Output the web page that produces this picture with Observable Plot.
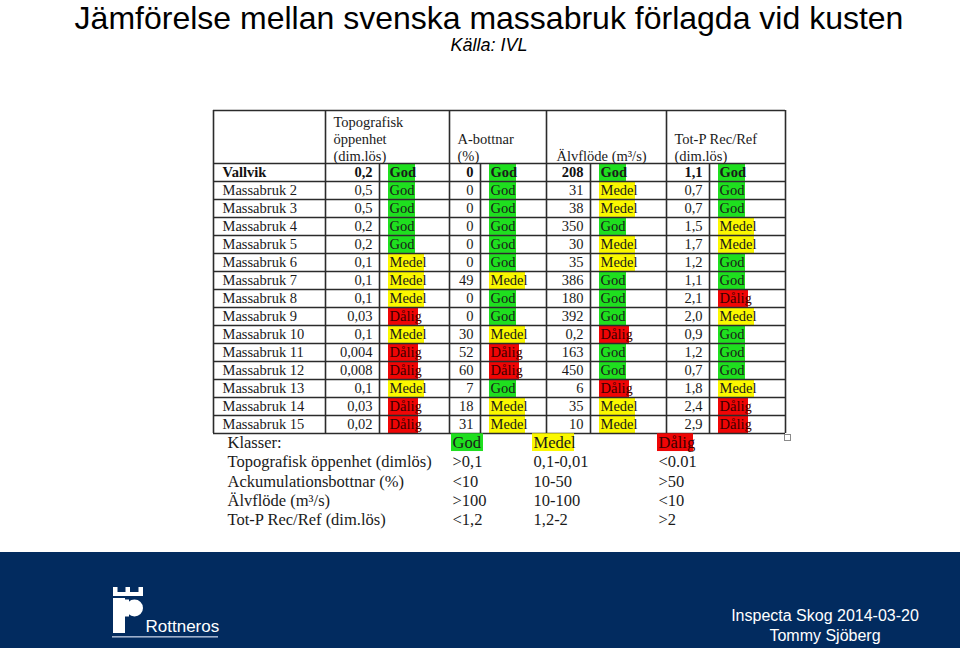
<!DOCTYPE html>
<html><head><meta charset="utf-8">
<script src="https://cdn.jsdelivr.net/npm/d3@7"></script>
<script src="https://cdn.jsdelivr.net/npm/@observablehq/plot@0.6"></script>
<style>
html,body{margin:0;padding:0;background:#fff;}
#page{position:relative;width:960px;height:648px;overflow:hidden;background:#fff;font-family:"Liberation Sans",Arial,sans-serif;}
#title{position:absolute;left:0;width:960px;box-sizing:border-box;padding-left:18px;top:3px;line-height:30px;text-align:center;font-size:32px;color:#000;white-space:nowrap;}
#subtitle{position:absolute;left:0;width:960px;box-sizing:border-box;padding-left:18px;top:36px;line-height:18px;text-align:center;font-size:18px;font-style:italic;color:#000;}
#tablewrap{position:absolute;left:0;top:95px;}
#legendwrap{position:absolute;left:0;top:425px;}
#handle{position:absolute;left:784px;top:434px;width:5px;height:5px;border:1px solid #8a8a8a;background:#fff;}
#footer{position:absolute;left:0;top:552px;width:960px;height:96px;background:#022b5f;}
#footnote{position:absolute;left:675px;width:300px;top:53.5px;line-height:20px;text-align:center;font-size:16px;color:#fff;}
#logo{position:absolute;left:0;top:0;}
svg.plotsvg{background:transparent;}
</style>
</head>
<body>
<div id="page">
  <div id="title">Jämförelse mellan svenska massabruk förlagda vid kusten</div>
  <div id="subtitle">Källa: IVL</div>
  <div id="tablewrap"></div>
  <div id="legendwrap"></div>
  <div id="handle"></div>
  <div id="footer">
    <svg id="logo" width="300" height="96" viewBox="0 0 300 96">
      <rect x="113" y="35" width="4.5" height="8" fill="#fff"/>
      <rect x="125.5" y="35" width="4.5" height="8" fill="#fff"/>
      <rect x="138.5" y="35" width="4.5" height="8" fill="#fff"/>
      <rect x="113" y="40" width="30" height="4" fill="#fff"/>
      <rect x="113" y="46" width="12" height="35" fill="#fff"/>
      <circle cx="134.5" cy="56" r="8.5" fill="#fff"/>
      <rect x="125" y="47.5" width="4" height="17" fill="#fff"/>
      <text x="145.5" y="79.5" fill="#fff" font-family="'Liberation Sans',Arial,sans-serif" font-size="17">Rottneros</text>
      <rect x="112" y="84" width="106" height="1.6" fill="#9fb0cc"/>
    </svg>
    <div id="footnote">Inspecta Skog 2014-03-20<br>Tommy Sjöberg</div>
  </div>
</div>
<script>
// ---------- DATA ----------
const names = ["Vallvik","Massabruk 2","Massabruk 3","Massabruk 4","Massabruk 5","Massabruk 6","Massabruk 7","Massabruk 8","Massabruk 9","Massabruk 10","Massabruk 11","Massabruk 12","Massabruk 13","Massabruk 14","Massabruk 15"];
const headers = ["Topografisk\nöppenhet\n(dim.lös)", "A-bottnar\n(%)", "Älvflöde (m³/s)", "Tot-P Rec/Ref\n(dim.lös)"];

const topoValue = [0.2,0.5,0.5,0.2,0.2,0.1,0.1,0.1,0.03,0.1,0.004,0.008,0.1,0.03,0.02];
const topoClass = ["God","God","God","God","God","Medel","Medel","Medel","Dålig","Medel","Dålig","Dålig","Medel","Dålig","Dålig"];

const bottnarValue = [0,0,0,0,0,0,49,0,0,30,52,60,7,18,31];
const bottnarClass = ["God","God","God","God","God","God","Medel","God","God","Medel","Dålig","Dålig","God","Medel","Medel"];

const alvValue = [208,31,38,350,30,35,386,180,392,0.2,163,450,6,35,10];
const alvClass = ["God","Medel","Medel","God","Medel","Medel","God","God","God","Dålig","God","God","Dålig","Medel","Medel"];

const totpValue = [1.1,0.7,0.7,1.5,1.7,1.2,1.1,2.1,2.0,0.9,1.2,0.7,1.8,2.4,2.9];
const totpClass = ["God","God","God","Medel","Medel","God","God","Dålig","Medel","God","God","God","Medel","Dålig","Dålig"];

const legendTitle = "Klasser:";
const classNames = ["God","Medel","Dålig"];
const legendLabels = ["Topografisk öppenhet (dimlös)","Ackumulationsbottnar (%)","Älvflöde (m³/s)","Tot-P Rec/Ref (dim.lös)"];
const legendGod = [">0,1","<10",">100","<1,2"];
const legendMedel = ["0,1-0,01","10-50","10-100","1,2-2"];
const legendDalig = ["<0.01",">50","<10",">2"];

// ---------- LAYOUT / STYLE ----------
const classColor = {"God":"#1fdf1f","Medel":"#fbf800","Dålig":"#ef0505"};
const classText = {"God":"#1a1a1a","Medel":"#1a1a1a","Dålig":"#3a0000"};
const hlWidth = {"God":27,"Medel":36,"Dålig":30};
const legendHl = {"God":32,"Medel":42,"Dålig":36};
const colWidths = [112,54,70,31,66,44,76,43,76];
const edges = [0]; colWidths.forEach(w => edges.push(edges[edges.length-1] + w));
const tableW = edges[edges.length-1];
const headerUnits = 2.94;
const serif = "'Liberation Serif','Times New Roman',serif";
const lineColor = "#2b2b2b";

const fmtComma = v => String(v).replace(".", ",");
const fmtOne = v => v.toFixed(1).replace(".", ",");
const metrics = [
  {values: topoValue, classes: topoClass, fmt: fmtComma},
  {values: bottnarValue, classes: bottnarClass, fmt: fmtComma},
  {values: alvValue, classes: alvClass, fmt: fmtComma},
  {values: totpValue, classes: totpClass, fmt: fmtOne}
];
const cells = names.flatMap((n, r) => metrics.map((m, k) => ({row: r, k, label: m.fmt(m.values[r]), cls: m.classes[r]})));
const rowsBold = cells.filter(d => d.row === 0), rowsNorm = cells.filter(d => d.row !== 0);
const valRight = d => edges[2 + 2*d.k];
const clsLeft = d => edges[2 + 2*d.k];

const hLines = [-headerUnits, ...d3.range(0, names.length + 1)];
const fullV = [0, edges[1], edges[3], edges[5], edges[7], tableW];
const innerV = [edges[2], edges[4], edges[6], edges[8]];

const table = Plot.plot({
  width: 960, height: 345, margin: 0,
  className: "plotsvg",
  x: {domain: [0, tableW], range: [213, 785], axis: null},
  y: {domain: [-headerUnits, names.length], range: [15, 338], axis: null},
  color: {type: "identity"},
  style: {background: "transparent", fontFamily: serif, fontSize: "14.5px", color: "#1a1a1a"},
  marks: [
    Plot.rect(cells, {x1: d => clsLeft(d) + 9, x2: d => clsLeft(d) + 9 + hlWidth[d.cls], y1: d => d.row + 0.04, y2: d => d.row + 1, fill: d => classColor[d.cls]}),
    Plot.ruleY(hLines, {x1: 0, x2: tableW, stroke: lineColor, strokeWidth: 1.6}),
    Plot.ruleX(fullV, {y1: -headerUnits, y2: names.length, stroke: lineColor, strokeWidth: 1.6}),
    Plot.ruleX(innerV, {y1: 0, y2: names.length, stroke: lineColor, strokeWidth: 1.6}),
    Plot.text(headers, {x: (d, i) => edges[1 + 2*i] + (i === 2 ? 10 : 8), y: 0, dy: -2, text: d => d, textAnchor: "start", lineAnchor: "bottom", lineHeight: 1.2, fill: "#1a1a1a"}),
    Plot.text(names.slice(0,1), {x: 9, y: 0.5, text: d => d, textAnchor: "start", fontWeight: "bold", fill: "#111"}),
    Plot.text(names.slice(1), {x: 9, y: (d, i) => i + 1.5, text: d => d, textAnchor: "start", fill: "#1a1a1a"}),
    Plot.text(rowsBold, {x: d => valRight(d) - 7, y: d => d.row + 0.5, text: "label", textAnchor: "end", fontWeight: "bold", fill: "#111"}),
    Plot.text(rowsNorm, {x: d => valRight(d) - 7, y: d => d.row + 0.5, text: "label", textAnchor: "end", fill: "#1a1a1a"}),
    Plot.text(rowsBold, {x: d => clsLeft(d) + 10, y: d => d.row + 0.5, text: "cls", textAnchor: "start", fontWeight: "bold", fill: d => classText[d.cls]}),
    Plot.text(rowsNorm, {x: d => clsLeft(d) + 10, y: d => d.row + 0.5, text: "cls", textAnchor: "start", fill: d => classText[d.cls]})
  ]
});
document.getElementById("tablewrap").appendChild(table);

const legendCols = [14, 238, 319, 444];
const legendRows = [legendTitle, ...legendLabels];
const legend = Plot.plot({
  width: 960, height: 110, margin: 0,
  className: "plotsvg",
  x: {domain: [0, tableW], range: [213, 785], axis: null},
  y: {domain: [0, legendRows.length], range: [7.5, 104], axis: null},
  color: {type: "identity"},
  style: {background: "transparent", fontFamily: serif, fontSize: "16.5px", color: "#1a1a1a"},
  marks: [
    Plot.rect(classNames, {x1: (d, i) => legendCols[i+1], x2: (d, i) => legendCols[i+1] + legendHl[d], y1: 0.04, y2: 0.96, fill: d => classColor[d]}),
    Plot.text(legendRows, {x: legendCols[0], y: (d, i) => i + 0.5, text: d => d, textAnchor: "start", fill: "#1a1a1a"}),
    Plot.text(classNames, {x: (d, i) => legendCols[i+1] + 1, y: 0.5, text: d => d, textAnchor: "start", fill: d => classText[d]}),
    Plot.text(legendGod, {x: legendCols[1] + 1, y: (d, i) => i + 1.5, text: d => d, textAnchor: "start", fill: "#1a1a1a"}),
    Plot.text(legendMedel, {x: legendCols[2] + 1, y: (d, i) => i + 1.5, text: d => d, textAnchor: "start", fill: "#1a1a1a"}),
    Plot.text(legendDalig, {x: legendCols[3] + 1, y: (d, i) => i + 1.5, text: d => d, textAnchor: "start", fill: "#1a1a1a"})
  ]
});
document.getElementById("legendwrap").appendChild(legend);
</script>
</body></html>
